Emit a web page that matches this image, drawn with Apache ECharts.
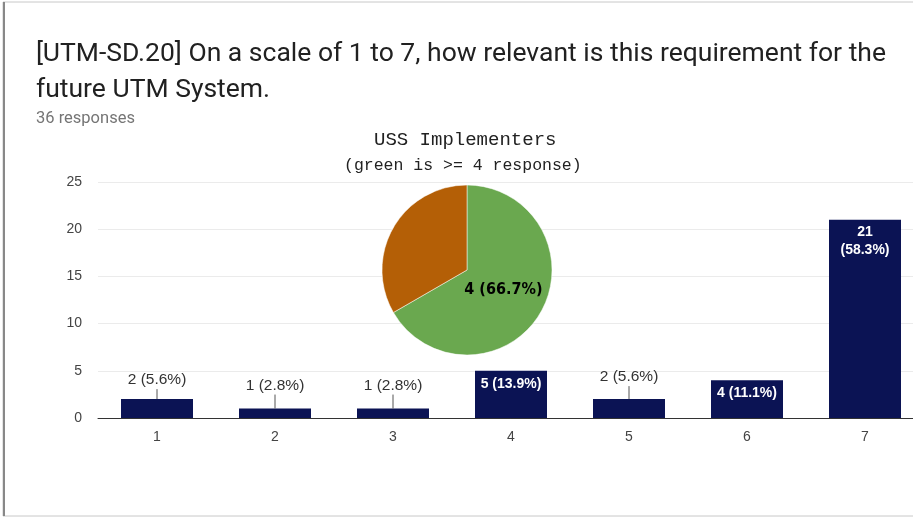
<!DOCTYPE html>
<html><head><meta charset="utf-8">
<script src="https://cdn.jsdelivr.net/npm/echarts@6/dist/echarts.min.js"></script>
<style>html,body{margin:0;padding:0;background:#fff;overflow:hidden}#c{width:924px;height:518px}</style>
</head><body><div id="c"></div>
<script>
const categories = ['1','2','3','4','5','6','7'];
const counts = [2,1,1,5,2,4,21];
const percents = ['5.6%','2.8%','2.8%','13.9%','5.6%','11.1%','58.3%'];
const yTicks = [0,5,10,15,20,25];
const pieNames = ['>= 4', '< 4'];
const pieValues = [4, 2];
const pieLabel = '4 (66.7%)';

const outside = {0:11, 1:15, 2:15, 4:14}; // label gap above bar for small bars (px)
const barData = counts.map((v,i)=>{
  const lbl = i===6 ? v+'\n('+percents[i]+')' : v+' ('+percents[i]+')';
  if (outside[i] !== undefined) {
    return {value:v, label:{show:true, position:'top', distance:outside[i], color:'#333', fontSize:15.5, formatter:lbl}};
  }
  return {value:v, label:{show:true, position:'insideTop', distance:i===6?3:4, color:'#fff', fontSize:14, fontWeight:'bold', lineHeight:18, formatter:lbl}};
});
const leaderData = counts.map((v,i)=>[i, v]).filter((d,i)=>outside[i]!==undefined);

const chart = echarts.init(document.getElementById('c'), null, {renderer:'canvas'});
chart.setOption({
  animation:false,
  backgroundColor:'#fff',
  graphic:[
    {type:'rect', shape:{x:3,y:2,width:930,height:514}, style:{fill:'none', stroke:'#c8c8c8', lineWidth:1}},
    {type:'line', shape:{x1:4,y1:2,x2:4,y2:516}, style:{stroke:'#888', lineWidth:2}},
    {type:'text', left:36, top:36, style:{text:'[UTM-SD.20] On a scale of 1 to 7, how relevant is this requirement for the\nfuture UTM System.', font:'26.5px Roboto', fill:'#212121', lineHeight:36}},
    {type:'text', left:36, top:110, style:{text:'36 responses', font:'16.5px Roboto', fill:'#757575'}},
    {type:'text', left:374, top:130, style:{text:'USS Implementers', font:'19px "Liberation Mono"', fill:'#222'}},
    {type:'text', left:344, top:157, style:{text:'(green is >= 4 response)', font:'16.5px "Liberation Mono"', fill:'#222'}}
  ],
  grid:{left:98, top:182, width:826, height:236, containLabel:false},
  xAxis:{type:'category', data:categories,
    axisLine:{lineStyle:{color:'#333', width:1}}, axisTick:{show:false},
    axisLabel:{color:'#444', fontSize:14, fontFamily:'Arial', margin:12}},
  yAxis:{type:'value', min:0, max:25, interval:5,
    axisLine:{show:false}, axisTick:{show:false},
    splitLine:{lineStyle:{color:'#ebebeb'}},
    axisLabel:{color:'#444', fontSize:14, fontFamily:'Arial', margin:16, formatter:v=>yTicks.includes(v)?String(v):''}},
  series:[
    {type:'bar', data:barData, barWidth:72, itemStyle:{color:'#0b1354'}, labelLayout:{hideOverlap:false},
      label:{fontFamily:'Arial'}},
    {type:'custom', data:leaderData, z:5, renderItem:(params, api)=>{
      const i = api.value(0), v = api.value(1);
      const p = api.coord([i, v]);
      const gap = outside[i];
      return {type:'line', shape:{x1:p[0], y1:p[1], x2:p[0], y2:p[1]-gap+1}, style:{stroke:'#555', lineWidth:1}};
    }},
    {type:'pie', center:[467,270], radius:85, startAngle:90, clockwise:true, z:10,
      data:[
        {name:pieNames[0], value:pieValues[0], itemStyle:{color:'#6aa84f'},
          label:{show:true, position:'inside', formatter:pieLabel, color:'#000', fontSize:16, fontWeight:'bold', fontFamily:'"DejaVu Sans Condensed", Arial', offset:[-3,-3]}},
        {name:pieNames[1], value:pieValues[1], itemStyle:{color:'#b45f06'}, label:{show:false}}
      ],
      itemStyle:{borderColor:'#fff', borderWidth:0.5},
      labelLine:{show:false}, emphasis:{disabled:true}
    }
  ]
});
</script></body></html>
